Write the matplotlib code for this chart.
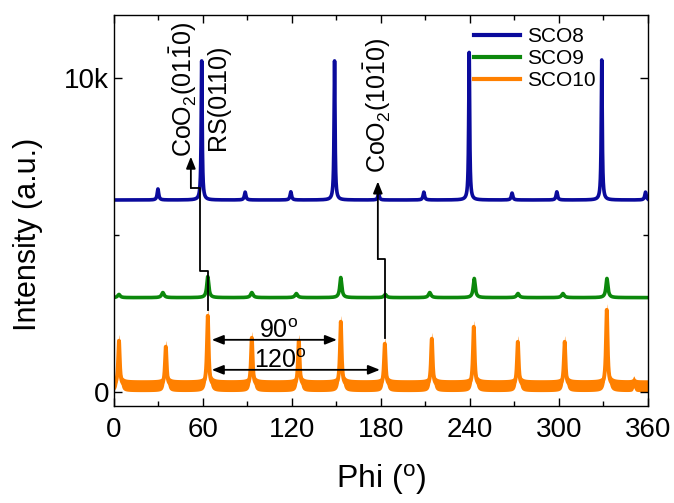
import numpy as np
import matplotlib
matplotlib.use('Agg')
import matplotlib.pyplot as plt
from matplotlib.ticker import FixedLocator, MultipleLocator

plt.rcParams['font.family'] = ['Liberation Sans', 'DejaVu Sans']
plt.rcParams['mathtext.fontset'] = 'custom'
plt.rcParams['mathtext.rm'] = 'Liberation Sans'
plt.rcParams['mathtext.it'] = 'Liberation Sans:italic'
plt.rcParams['mathtext.bf'] = 'Liberation Sans:bold'

# ---------------- data ----------------
phi = np.linspace(0, 360, 7201)

sco8_base = 6110
sco8_pos = [29.7, 59.2, 88.5, 119.3, 148.8, 178.5, 209.0, 239.6, 268.5, 298.7, 329.0, 358.5]
sco8_amp = [350, 4430, 250, 260, 4430, 200, 250, 4700, 220, 260, 4460, 250]
sco8_wid = [0.6, 0.4, 0.6, 0.6, 0.4, 0.6, 0.6, 0.4, 0.6, 0.6, 0.4, 0.6]

sco9_base = 3000
sco9_pos = [3.4, 33.0, 63.3, 93.0, 123.0, 153.0, 183.0, 213.0, 243.0, 272.5, 302.8, 332.5]
sco9_amp = [100, 160, 670, 160, 130, 640, 100, 160, 610, 130, 130, 610]
sco9_wid = [1.0, 1.0, 0.8, 1.0, 1.0, 0.8, 1.0, 1.0, 0.8, 1.0, 1.0, 0.8]

sco10_base = 190
sco10_noise = 190
sco10_pos = [3.4, 35.0, 63.3, 93.0, 124.7, 153.0, 182.7, 214.4, 242.7, 272.4, 304.0, 332.4, 350.6]
sco10_amp = [1435, 1245, 2230, 1530, 1435, 2040, 1340, 1500, 1880, 1400, 1400, 2420, 120]
sco10_wid = [0.65, 0.65, 0.65, 0.65, 0.65, 0.65, 0.65, 0.65, 0.65, 0.65, 0.65, 0.65, 0.65]

labels = ['SCO8', 'SCO9', 'SCO10']
colors = ['#0a0a9c', '#0c880c', '#ff8000']

x_ticks = [0, 60, 120, 180, 240, 300, 360]
y_ticks = [0, 10000]
y_ticklabels = ['0', '10k']

def profile(base, pos, amp, wid):
    y = np.full_like(phi, float(base))
    for p, a, w in zip(pos, amp, wid):
        y = y + a / (1.0 + ((phi - p) / w) ** 2)
    return y

sco8 = profile(sco8_base, sco8_pos, sco8_amp, sco8_wid)
sco9 = profile(sco9_base, sco9_pos, sco9_amp, sco9_wid)
sco10 = profile(sco10_base, sco10_pos, sco10_amp, sco10_wid)

# ---------------- figure ----------------
fig = plt.figure(figsize=(6.74, 5.03), dpi=100)
ax = fig.add_axes([0.169, 0.193, 0.792, 0.777])

ax.fill_between(phi, sco10 - sco10_noise, sco10 + sco10_noise, color=colors[2], lw=0)
ax.plot(phi, sco10, color=colors[2], lw=2.8, label=labels[2])
ax.plot(phi, sco9, color=colors[1], lw=2.6, label=labels[1])
ax.plot(phi, sco8, color=colors[0], lw=2.6, label=labels[0])

ax.set_xlim(0, 360)
ax.set_ylim(-450, 12000)

ax.xaxis.set_major_locator(FixedLocator(x_ticks))
ax.xaxis.set_minor_locator(MultipleLocator(30))
ax.yaxis.set_major_locator(FixedLocator(y_ticks))
ax.set_yticklabels(y_ticklabels)
ax.yaxis.set_minor_locator(FixedLocator([5000]))
ax.tick_params(which='both', direction='in', top=True, right=True, width=1.0, labelsize=20)
ax.tick_params(which='major', length=6)
ax.tick_params(which='minor', length=3.5)
ax.tick_params(axis='x', pad=8)
for s in ax.spines.values():
    s.set_linewidth(1.0)

ax.set_xlabel(r'Phi ($^\mathrm{o}$)', fontsize=23, labelpad=14)
ax.set_ylabel('Intensity (a.u.)', fontsize=22)
ax.yaxis.set_label_coords(-0.133, 0.44)

# legend
h, l = ax.get_legend_handles_labels()
order = [2, 1, 0]
leg = ax.legend([h[i] for i in order], [l[i] for i in order], loc='upper left',
                bbox_to_anchor=(0.675, 0.97), frameon=False, fontsize=15,
                handlelength=2.2, handletextpad=0.35, labelspacing=0.15,
                borderaxespad=0, borderpad=0)
for line in leg.get_lines():
    line.set_linewidth(3)

# annotations
txt_kw = dict(rotation=90, ha='center', va='bottom', fontsize=18)
ax.text(46.5, 7485, r'CoO$_2$(01$\bar{1}$0)', **txt_kw)
ax.text(70.1, 7708, 'RS(0110)', **txt_kw)
ax.text(177.3, 6975, r'CoO$_2$(10$\bar{1}$0)', **txt_kw)

arr = dict(arrowstyle='-|>,head_length=0.5,head_width=0.2', color='k', lw=1.3,
           shrinkA=0, shrinkB=0, mutation_scale=14)
ax.plot([63.4, 63.4, 58.0, 58.0, 51.9], [2612, 3850, 3850, 6500, 6500], color='k', lw=1.3)
ax.annotate('', xy=(51.9, 7490), xytext=(51.9, 6500), arrowprops=arr)
ax.plot([182.7, 182.7, 178.0], [1720, 4235, 4235], color='k', lw=1.3)
ax.annotate('', xy=(178.0, 6700), xytext=(178.0, 4235), arrowprops=arr)

darr = dict(arrowstyle='<|-|>,head_length=0.5,head_width=0.2', color='k', lw=1.3,
            shrinkA=0, shrinkB=0, mutation_scale=14)
ax.annotate('', xy=(66.0, 1656), xytext=(150.4, 1656), arrowprops=darr)
ax.annotate('', xy=(66.0, 700), xytext=(179.4, 700), arrowprops=darr)
ax.text(111, 1720, r'90$^\mathrm{o}$', ha='center', va='baseline', fontsize=18)
ax.text(112, 765, r'120$^\mathrm{o}$', ha='center', va='baseline', fontsize=18)

fig.savefig('out.png', dpi=100)
